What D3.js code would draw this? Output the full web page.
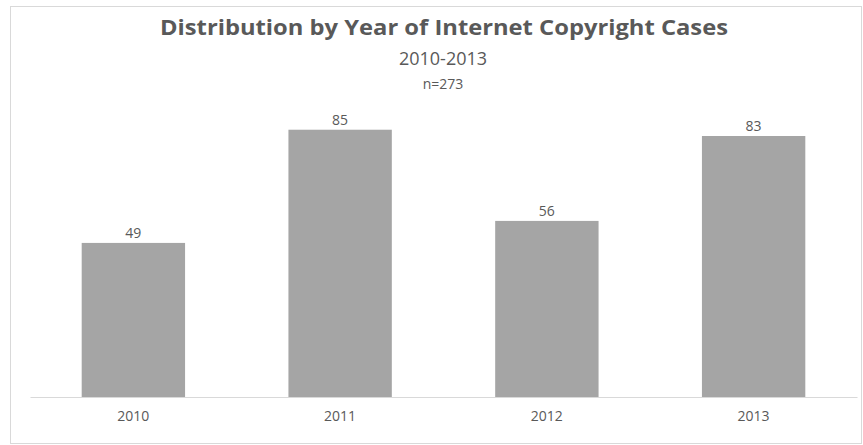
<!DOCTYPE html>
<html lang="en">
<head>
<meta charset="utf-8">
<title>Internet Copyright Cases</title>
<script src="https://d3js.org/d3.v7.min.js"></script>
<style>
  body { margin: 0; background: #fff; }
  svg { display: block; }
</style>
</head>
<body>
<script>
var years = ["2010", "2011", "2012", "2013"];
var cases = [49, 85, 56, 83];
var titleText = "Distribution by Year of Internet Copyright Cases";
var subtitleText = "2010-2013";
var nText = "n=273";

var width = 863, height = 445;
var font = "'Open Sans', sans-serif";
var textColor = "#595959";

var svg = d3.select("body").append("svg")
  .attr("width", width)
  .attr("height", height);

// chart border
svg.append("rect")
  .attr("x", 10.5).attr("y", 6.5)
  .attr("width", width - 12).attr("height", height - 8)
  .attr("fill", "none")
  .attr("stroke", "#d9d9d9");

var x = d3.scaleBand().domain(years).range([30, 857])
  .paddingInner(0.5).paddingOuter(0.25);
var y = d3.scaleLinear().domain([0, 90]).range([397, 114]);

svg.selectAll("rect.bar")
  .data(cases)
  .enter().append("rect")
  .attr("class", "bar")
  .attr("x", function(d, i) { return x(years[i]); })
  .attr("y", function(d) { return y(d); })
  .attr("width", x.bandwidth())
  .attr("height", function(d) { return y(0) - y(d); })
  .attr("fill", "#a5a5a5");

// value labels
svg.selectAll("text.val")
  .data(cases)
  .enter().append("text")
  .attr("class", "val")
  .attr("x", function(d, i) { return x(years[i]) + x.bandwidth() / 2; })
  .attr("y", function(d) { return y(d) - 5; })
  .attr("text-anchor", "middle")
  .attr("font-family", font)
  .attr("font-size", 14)
  .attr("fill", textColor)
  .text(function(d) { return d; });

// x axis
var axis = svg.append("g")
  .attr("transform", "translate(0," + y(0) + ")")
  .call(d3.axisBottom(x).tickSize(0).tickPadding(14));
axis.select(".domain").attr("stroke", "#d9d9d9");
axis.selectAll("text")
  .attr("font-family", font)
  .attr("font-size", 14)
  .attr("fill", textColor);

// titles
svg.append("text")
  .attr("x", 444).attr("y", 35)
  .attr("text-anchor", "middle")
  .attr("font-family", font)
  .attr("font-weight", "bold")
  .attr("font-size", 22)
  .attr("fill", textColor)
  .attr("textLength", 568)
  .attr("lengthAdjust", "spacingAndGlyphs")
  .text(titleText);

svg.append("text")
  .attr("x", 443).attr("y", 65)
  .attr("text-anchor", "middle")
  .attr("font-family", font)
  .attr("font-size", 18)
  .attr("fill", textColor)
  .text(subtitleText);

svg.append("text")
  .attr("x", 443).attr("y", 89)
  .attr("text-anchor", "middle")
  .attr("font-family", font)
  .attr("font-size", 14)
  .attr("fill", textColor)
  .text(nText);
</script>
</body>
</html>
